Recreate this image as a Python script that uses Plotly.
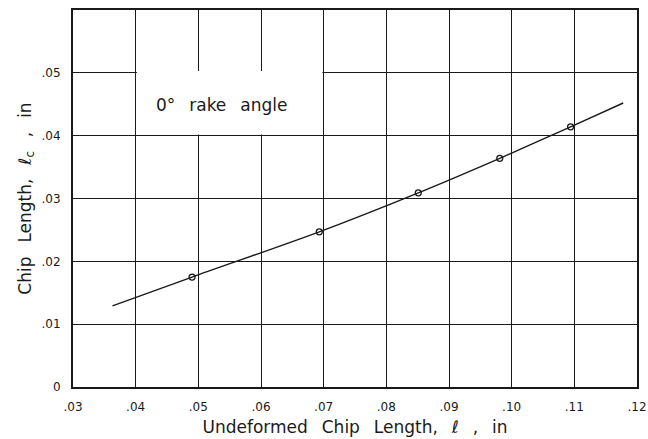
import plotly.graph_objects as go

# Data
point_x = [0.0490, 0.0693, 0.0851, 0.0981, 0.1094]
point_y = [0.0175, 0.0247, 0.0309, 0.0364, 0.0414]

curve_x = [0.0363, 0.0490, 0.0693, 0.0851, 0.0981, 0.1094, 0.1178]
curve_y = [0.0129, 0.0175, 0.0247, 0.0309, 0.0364, 0.0414, 0.0452]

x_tickvals = [0.03, 0.04, 0.05, 0.06, 0.07, 0.08, 0.09, 0.10, 0.11, 0.12]
x_ticktext = [".03", ".04", ".05", ".06", ".07", ".08", ".09", ".10", ".11", ".12"]
y_tickvals = [0.0, 0.01, 0.02, 0.03, 0.04, 0.05]
y_ticktext = ["0", ".01", ".02", ".03", ".04", ".05"]

SP = " \u2002"  # wide word gap like the hand lettering
label_text = "0°" + SP + "rake" + SP + "angle"
x_title = "Undeformed" + SP + "Chip" + SP + "Length," + SP + "<i>ℓ</i>" + SP + "," + SP + "in"
y_title = "Chip" + SP + "Length," + SP + "<i>ℓ</i><sub>c</sub>" + SP + "," + SP + "in"

FONT = "DejaVu Sans"
INK = "#1a1a1a"

fig = go.Figure()

fig.add_trace(go.Scatter(
    x=curve_x, y=curve_y, mode="lines",
    line=dict(color=INK, width=1.4, shape="spline", smoothing=0.8),
    hoverinfo="skip", showlegend=False,
))
fig.add_trace(go.Scatter(
    x=point_x, y=point_y, mode="markers",
    marker=dict(symbol="circle-open", size=6, color=INK, line=dict(width=1.3, color=INK)),
    showlegend=False,
))

# white box behind the label, hiding the grid
fig.add_shape(type="rect", xref="x", yref="y",
              x0=0.0402, x1=0.0698, y0=0.0402, y1=0.0503,
              fillcolor="white", line=dict(width=0), layer="above")

fig.add_annotation(x=0.0537, y=0.0449, xref="x", yref="y", text=label_text,
                   showarrow=False, font=dict(family=FONT, size=17, color=INK))

axis_common = dict(
    showgrid=True, gridcolor=INK, gridwidth=1.4,
    showline=True, linecolor=INK, linewidth=2, mirror=True,
    zeroline=False, ticks="", tickfont=dict(family=FONT, size=12, color=INK),
    automargin=False,
)

fig.update_xaxes(range=[0.03, 0.12], tickvals=x_tickvals, ticktext=x_ticktext,
                 title=dict(text=x_title, font=dict(family=FONT, size=17, color=INK), standoff=8),
                 ticklabelstandoff=8, **axis_common)
fig.update_yaxes(range=[0.0, 0.06], tickvals=y_tickvals, ticktext=y_ticktext,
                 title=dict(text=y_title, font=dict(family=FONT, size=17, color=INK), standoff=6),
                 ticklabelstandoff=8, **axis_common)

fig.update_layout(
    width=648, height=439,
    margin=dict(l=73, r=11, t=10, b=52, autoexpand=False),
    paper_bgcolor="white", plot_bgcolor="white",
)

fig.write_html("out.html", config={"displayModeBar": False},
               post_script="document.body.style.margin='0';document.body.style.padding='0';document.body.style.overflow='hidden';")
